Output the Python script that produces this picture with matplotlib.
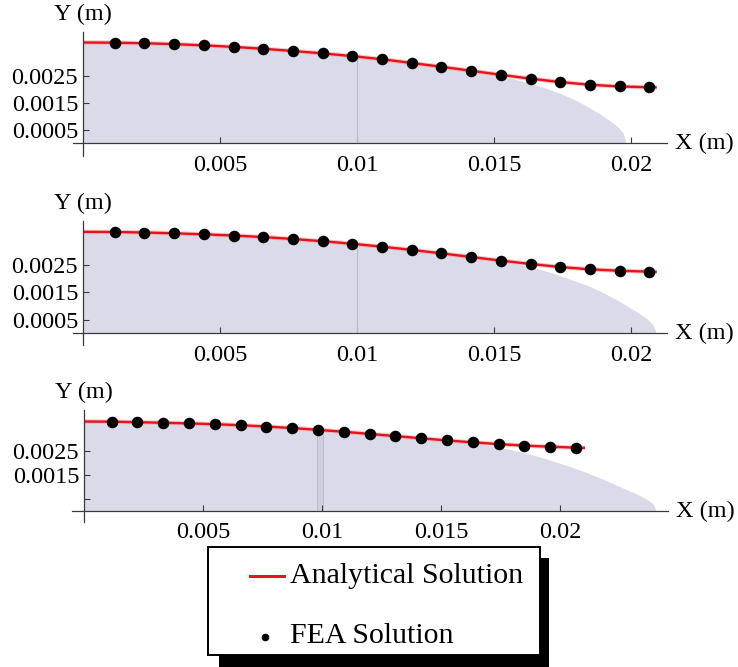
import numpy as np
import matplotlib
matplotlib.use("Agg")
import matplotlib.pyplot as plt
from matplotlib.patches import Rectangle
from matplotlib.lines import Line2D

plt.rcParams['font.family'] = ['Liberation Serif', 'DejaVu Serif']

# ---------------- data (metres; y values in 1e-3 m) ----------------
FEA_X = [0.00116, 0.00224, 0.00333, 0.00441, 0.00550, 0.00658, 0.00766, 0.00875,
         0.00983, 0.01092, 0.01200, 0.01308, 0.01417, 0.01525, 0.01634, 0.01742,
         0.01850, 0.01959, 0.02067]

# panel 1
P1_FEA_Y = [3.752, 3.730, 3.697, 3.652, 3.594, 3.524, 3.443, 3.352, 3.250, 3.133,
            2.995, 2.855, 2.705, 2.555, 2.410, 2.285, 2.185, 2.120, 2.090]
P1_LINE_X0, P1_LINE_Y0 = 0.0, 3.758
P1_LINE_X1, P1_LINE_Y1 = 0.02094, 2.085
P1_FILL_X = [0.0, 0.00224, 0.00441, 0.00658, 0.00875, 0.01092, 0.01308, 0.01470,
             0.01558, 0.01631, 0.01692, 0.01741, 0.01789, 0.01838, 0.01887, 0.01923,
             0.01954, 0.01972, 0.01979, 0.01980]
P1_FILL_Y = [3.74, 3.715, 3.64, 3.51, 3.34, 3.12, 2.84, 2.61, 2.44, 2.238, 2.05,
             1.866, 1.654, 1.393, 1.095, 0.846, 0.60, 0.376, 0.127, 0.0]

# panel 2
P2_FEA_Y = [3.708, 3.688, 3.660, 3.622, 3.578, 3.522, 3.452, 3.370, 3.277, 3.170,
            3.053, 2.927, 2.793, 2.662, 2.537, 2.427, 2.343, 2.290, 2.258]
P2_LINE_X0, P2_LINE_Y0 = 0.0, 3.712
P2_LINE_X1, P2_LINE_Y1 = 0.02094, 2.250
P2_FILL_X = [0.0, 0.00224, 0.00441, 0.00658, 0.00875, 0.01092, 0.01308, 0.01525,
             0.01631, 0.01717, 0.01777, 0.01838, 0.01899, 0.01960, 0.02021, 0.02057,
             0.02081, 0.02089, 0.02090]
P2_FILL_Y = [3.70, 3.675, 3.61, 3.51, 3.36, 3.16, 2.915, 2.65, 2.44, 2.20, 1.98,
             1.77, 1.49, 1.16, 0.79, 0.55, 0.31, 0.12, 0.0]

# panel 3
P3_FEA_Y = [3.722, 3.700, 3.677, 3.650, 3.616, 3.574, 3.520, 3.456, 3.382, 3.300,
            3.212, 3.122, 3.030, 2.940, 2.860, 2.788, 2.725, 2.678, 2.640]
P3_LINE_X0, P3_LINE_Y0 = 0.0, 3.728
P3_LINE_X1, P3_LINE_Y1 = 0.02105, 2.630
P3_FILL_X = [0.0, 0.00224, 0.00441, 0.00658, 0.00875, 0.01092, 0.01308, 0.01525,
             0.01634, 0.01748, 0.01832, 0.01902, 0.01972, 0.02042, 0.02112, 0.02182,
             0.02252, 0.02322, 0.02364, 0.02392, 0.02402, 0.02404]
P3_FILL_Y = [3.715, 3.69, 3.64, 3.565, 3.44, 3.29, 3.11, 2.93, 2.83, 2.65, 2.47,
             2.29, 2.08, 1.85, 1.60, 1.32, 1.01, 0.71, 0.49, 0.29, 0.06, 0.0]
P3_BAND = [0.00978, 0.01005]

X_TICKS = [0.005, 0.01, 0.015, 0.02]
X_TICKLABELS = ['0.005', '0.01', '0.015', '0.02']
Y_TICKS = [0.0005, 0.0015, 0.0025]
Y_TICKLABELS_12 = ['0.0005', '0.0015', '0.0025']
Y_TICKLABELS_3 = ['', '0.0015', '0.0025']
DIVIDER_X = 0.01

# ---------------- layout helpers ----------------
W, H = 738, 667
fig = plt.figure(figsize=(W / 100, H / 100), dpi=100)

FILL_C = '#dadae9'
RED = '#e6131c'
AXC = '#3a3a3a'
FS = 17.5


def make_ax(xlim, ylim, x0px, xs, y0px, ys):
    lpx = x0px + xlim[0] * xs
    rpx = x0px + xlim[1] * xs
    tpx = y0px - ylim[1] * ys
    bpx = y0px - ylim[0] * ys
    ax = fig.add_axes([lpx / W, 1 - bpx / H, (rpx - lpx) / W, (bpx - tpx) / H])
    ax.set_xlim(*xlim)
    ax.set_ylim(*ylim)
    return ax


def draw_panel(ax, fea_y, lx0, ly0, lx1, ly1, fill_x, fill_y, ylabels, band=None):
    fy = np.array(fill_y) * 1e-3
    ax.fill_between(fill_x, 0, fy, color=FILL_C, lw=0, zorder=1)
    if band is None:
        yt = np.interp(DIVIDER_X, fill_x, fy)
        ax.vlines(DIVIDER_X, 0, yt, color='#b8b8c8', lw=0.8, zorder=2)
    else:
        yt = np.interp(np.mean(band), fill_x, fy)
        ax.fill_between(band, 0, [yt, yt], color='#cfcfdf', lw=0, zorder=1.5)
        ax.vlines(band, 0, yt, color='#bcbccc', lw=0.7, zorder=2)
    lx = [lx0] + FEA_X + [lx1]
    ly = np.array([ly0] + fea_y + [ly1]) * 1e-3
    ax.plot(lx, ly, color='#f4a0a4', lw=3.2, alpha=0.6, zorder=3, solid_capstyle='butt')
    ax.plot(lx, ly, color=RED, lw=1.7, zorder=4, solid_capstyle='butt')
    ax.plot(FEA_X, np.array(fea_y) * 1e-3, 'o', color='black', ms=7.3, zorder=5)

    for s in ['top', 'right']:
        ax.spines[s].set_visible(False)
    ax.spines['left'].set_position(('data', 0))
    ax.spines['bottom'].set_position(('data', 0))
    for s in ['left', 'bottom']:
        ax.spines[s].set_color(AXC)
        ax.spines[s].set_linewidth(0.9)
        ax.spines[s].set_zorder(6)
    ax.patch.set_visible(False)
    ax.set_xticks(X_TICKS)
    ax.set_xticklabels(X_TICKLABELS)
    ax.set_yticks(Y_TICKS)
    ax.set_yticklabels(ylabels)
    ax.tick_params(axis='x', direction='in', length=4, width=0.8, color=AXC,
                   pad=8, labelsize=FS)
    ax.tick_params(axis='y', direction='in', length=4, width=0.8, color=AXC,
                   pad=3.5, labelsize=FS)
    ax.annotate('Y (m)', xy=(0, 1), xycoords=('data', 'axes fraction'),
                xytext=(0, 12.5), textcoords='offset points',
                ha='center', va='center', fontsize=FS)
    ax.annotate('X (m)', xy=(1, 0), xycoords=('axes fraction', 'data'),
                xytext=(6, 0), textcoords='offset points',
                ha='left', va='center', fontsize=FS)


ax1 = make_ax((-0.00037, 0.0213), (-0.00047, 0.00415), 83, 27400, 143.4, 26850)
draw_panel(ax1, P1_FEA_Y, P1_LINE_X0, P1_LINE_Y0, P1_LINE_X1, P1_LINE_Y1,
           P1_FILL_X, P1_FILL_Y, Y_TICKLABELS_12)

ax2 = make_ax((-0.00037, 0.0213), (-0.00042, 0.00412), 83, 27400, 333.4, 27350)
draw_panel(ax2, P2_FEA_Y, P2_LINE_X0, P2_LINE_Y0, P2_LINE_X1, P2_LINE_Y1,
           P2_FILL_X, P2_FILL_Y, Y_TICKLABELS_12)

ax3 = make_ax((-0.00052, 0.02454), (-0.00045, 0.00421), 84, 23800, 511, 24000)
draw_panel(ax3, P3_FEA_Y, P3_LINE_X0, P3_LINE_Y0, P3_LINE_X1, P3_LINE_Y1,
           P3_FILL_X, P3_FILL_Y, Y_TICKLABELS_3, band=P3_BAND)

# ---------------- legend (framed box with drop shadow) ----------------
lg = fig.add_axes([0, 0, 1, 1])
lg.set_xlim(0, W)
lg.set_ylim(H, 0)
lg.axis('off')
lg.add_patch(Rectangle((219, 558), 330, 109, facecolor='black', edgecolor='none', zorder=1))
lg.add_patch(Rectangle((208, 547), 332, 108, facecolor='white', edgecolor='black',
                       lw=1.4, zorder=2))
lg.add_line(Line2D([250, 284], [576, 576], color=RED, lw=2.2, zorder=3))
lg.plot([265], [637], 'o', color='black', ms=4.5, zorder=3)
lg.text(290, 576, 'Analytical Solution', fontsize=21.5, ha='left', va='center', zorder=3)
lg.text(290, 636, 'FEA Solution', fontsize=21.5, ha='left', va='center', zorder=3)

fig.savefig('out.png', dpi=100)
